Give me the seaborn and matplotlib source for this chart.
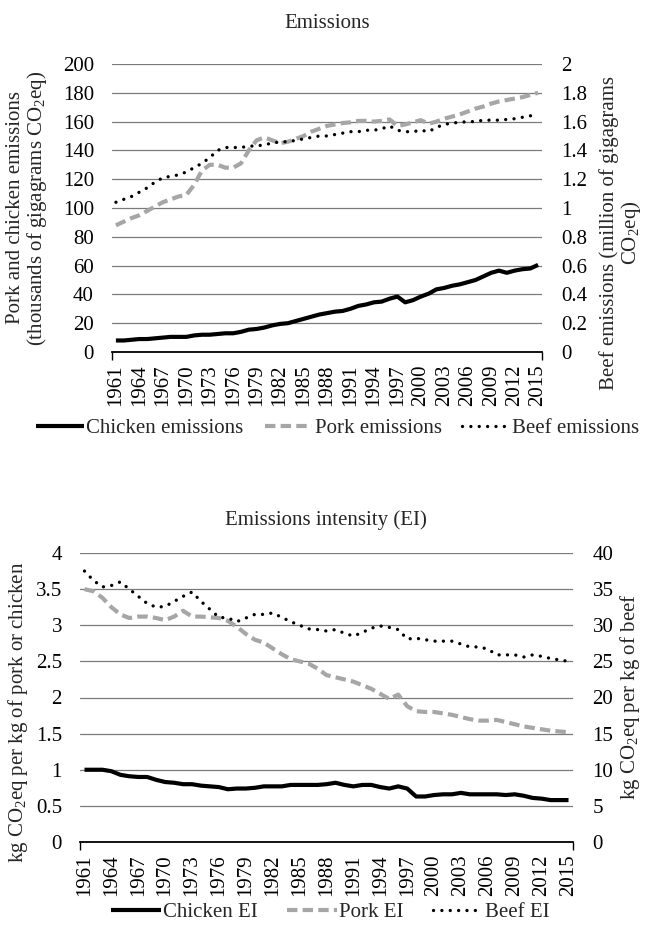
import numpy as np
import pandas as pd
import matplotlib
matplotlib.use('Agg')
import matplotlib.pyplot as plt
import seaborn as sns

years = list(range(1961, 2016))
chicken_em = [8, 8, 8.5, 9, 9, 9.5, 10, 10.5, 10.5, 10.5, 11.5, 12, 12, 12.5, 13, 13, 14, 15.5, 16, 17,
              18.5, 19.5, 20, 21.5, 23, 24.5, 26, 27, 28, 28.5, 30, 32, 33, 34.5, 35, 37, 38.5, 34.5, 36, 38.5,
              40.5, 43.5, 44.5, 46, 47, 48.5, 50, 52.5, 55, 56.5, 55, 56.5, 57.5, 58, 60.5]
pork_em = [88, 90.5, 93, 95, 98, 101, 104, 106, 108, 109, 116, 126, 130, 130, 128, 128, 131, 140, 147, 149,
           147, 145, 146, 148, 150, 153, 155, 157, 158, 159, 159.5, 160.5, 160.5, 160, 160.5, 161.5, 157, 158, 159.5, 161,
           158.5, 160, 162, 163.5, 165, 167, 169, 170.5, 172.5, 174, 175, 176, 177, 178.5, 180]
beef_em = [1.04, 1.06, 1.08, 1.11, 1.14, 1.18, 1.21, 1.22, 1.23, 1.25, 1.28, 1.31, 1.35, 1.40, 1.42, 1.42, 1.42, 1.43, 1.43, 1.44,
           1.45, 1.46, 1.46, 1.47, 1.48, 1.49, 1.50, 1.50, 1.51, 1.52, 1.53, 1.53, 1.54, 1.54, 1.55, 1.57, 1.54, 1.53, 1.53, 1.54,
           1.53, 1.56, 1.58, 1.59, 1.595, 1.60, 1.60, 1.61, 1.61, 1.61, 1.615, 1.62, 1.63, 1.64, 1.65]
chicken_ei = [1.0, 1.0, 1.0, 0.98, 0.93, 0.91, 0.9, 0.9, 0.86, 0.83, 0.82, 0.8, 0.8, 0.78, 0.77, 0.76, 0.73, 0.74, 0.74, 0.75,
              0.77, 0.77, 0.77, 0.79, 0.79, 0.79, 0.79, 0.8, 0.82, 0.79, 0.77, 0.79, 0.79, 0.76, 0.74, 0.77, 0.74, 0.63, 0.63, 0.65,
              0.66, 0.66, 0.68, 0.66, 0.66, 0.66, 0.66, 0.65, 0.66, 0.64, 0.61, 0.6, 0.58, 0.58, 0.58]
pork_ei = [3.5, 3.47, 3.38, 3.25, 3.15, 3.1, 3.12, 3.12, 3.1, 3.07, 3.12, 3.2, 3.12, 3.12, 3.11, 3.1, 3.06, 2.98, 2.88, 2.8,
           2.76, 2.68, 2.6, 2.53, 2.5, 2.47, 2.4, 2.31, 2.28, 2.25, 2.22, 2.17, 2.12, 2.05, 1.98, 2.04, 1.88, 1.81, 1.8, 1.8,
           1.78, 1.76, 1.73, 1.7, 1.68, 1.68, 1.69, 1.66, 1.63, 1.6, 1.58, 1.56, 1.54, 1.53, 1.52]
beef_ei = [37.5, 36.2, 35.3, 35.5, 36, 35, 34, 33, 32.5, 32.6, 33.3, 34, 34.6, 33.3, 32.2, 31.1, 31, 30.5, 31, 31.5,
           31.5, 31.7, 31.1, 30.5, 30, 29.5, 29.4, 29.2, 29.4, 28.9, 28.5, 29, 29.6, 29.9, 29.7, 29.4, 28.1, 28.2, 28, 27.8,
           27.8, 27.8, 27.4, 27, 27, 26.7, 25.9, 25.9, 25.9, 25.6, 25.9, 25.7, 25.4, 25.2, 25]
xtick_years = years[::3]

top_left_ticks = list(range(0, 201, 20))
top_right_ticks = [i / 10 for i in range(0, 21, 2)]
bot_left_ticks = [i / 2 for i in range(0, 9)]
bot_right_ticks = list(range(0, 41, 5))

sns.set_theme(style='white')
plt.rcParams['font.family'] = ['Liberation Serif', 'DejaVu Serif']
plt.rcParams['mathtext.fontset'] = 'custom'
plt.rcParams['mathtext.rm'] = 'Liberation Serif'
plt.rcParams['mathtext.it'] = 'Liberation Serif:italic'

W, H = 647, 940
FS = 15
fig = plt.figure(figsize=(W / 100, H / 100), dpi=100)


def px_ax(l, t, r, b):
    return fig.add_axes([l / W, 1 - b / H, (r - l) / W, (b - t) / H])


CH = dict(color='black', lw=3.0, solid_capstyle='butt')
PK = dict(color='#a6a6a6', lw=3.0, linestyle=(0, (2.5, 1.25)))
BF = dict(color='black', lw=2.4, linestyle=(0, (0.01, 2.5)), dash_capstyle='round')


def fmt(v):
    return f'{v:g}'


def style_axes(ax, ax2, lt, rt, lpad, rpad):
    ax.set_xlim(1960.5, 2015.5)
    ax.set_ylim(lt[0], lt[-1])
    ax2.set_ylim(rt[0], rt[-1])
    ax.set_yticks(lt)
    ax.set_yticklabels([fmt(v) for v in lt])
    ax2.set_yticks(rt)
    ax2.set_yticklabels([fmt(v) for v in rt])
    ax.set_xticks(xtick_years)
    ax.set_xticklabels([str(y) for y in xtick_years], rotation=90)
    ax.set_xticks([1960.5, 2015.5], minor=True)
    ax.tick_params(axis='x', which='major', length=0, pad=9, labelsize=FS, colors='black')
    ax.tick_params(axis='x', which='minor', length=6, width=1.0, color='black', direction='out', bottom=True)
    ax.tick_params(axis='y', length=0, pad=lpad, labelsize=FS, colors='black')
    ax2.tick_params(axis='y', length=0, pad=rpad, labelsize=FS, colors='black')
    ax.grid(axis='y', color='#7a7a7a', lw=0.9)
    ax.grid(axis='x', visible=False)
    ax.set_axisbelow(True)
    for s in ['top', 'left', 'right']:
        ax.spines[s].set_visible(False)
        ax2.spines[s].set_visible(False)
    ax2.spines['bottom'].set_visible(False)
    ax.spines['bottom'].set_color('black')
    ax.spines['bottom'].set_linewidth(1.3)
    ax.set_xlabel('')
    ax.set_ylabel('')
    ax2.set_xlabel('')
    ax2.set_ylabel('')
    ax2.grid(False)


LEG = dict(loc='center', ncol=3, frameon=False, fontsize=FS, handlelength=2.4,
           handletextpad=0.1, columnspacing=1.4, borderaxespad=0, borderpad=0)

# ---------------- top chart ----------------
df1 = pd.DataFrame({'year': years, 'chicken': chicken_em, 'pork': pork_em, 'beef': beef_em})
ax = px_ax(112, 64, 542, 352)
ax2 = ax.twinx()
sns.lineplot(data=df1, x='year', y='chicken', ax=ax, label='Chicken emissions', legend=False, **CH)
sns.lineplot(data=df1, x='year', y='pork', ax=ax, label='Pork emissions', legend=False, **PK)
sns.lineplot(data=df1, x='year', y='beef', ax=ax2, label='Beef emissions', legend=False, **BF)
style_axes(ax, ax2, top_left_ticks, top_right_ticks, 13, 14)
h = ax.get_lines() + ax2.get_lines()
leg_top = dict(LEG, handlelength=2.3, columnspacing=1.0)
fig.legend(h, [l.get_label() for l in h], bbox_to_anchor=(338 / W, 1 - 428 / H), **leg_top)
fig.text(327 / W, 1 - 24 / H, 'Emissions', ha='center', va='center', fontsize=FS)
fig.text(28 / W, 1 - 208 / H, 'Pork and chicken emissions\n(thousands of gigagrams CO$_\\mathrm{2}$eq)',
         rotation=90, ha='center', va='center', multialignment='center', fontsize=FS, linespacing=1.0)
fig.text(621 / W, 1 - 233 / H, 'Beef emissions (million of gigagrams\nCO$_\\mathrm{2}$eq)',
         rotation=90, ha='center', va='center', multialignment='center', fontsize=FS, linespacing=1.0)

# ---------------- bottom chart ----------------
df2 = pd.DataFrame({'year': years, 'chicken': chicken_ei, 'pork': pork_ei, 'beef': beef_ei})
bx = px_ax(80, 553, 573, 842)
bx2 = bx.twinx()
sns.lineplot(data=df2, x='year', y='chicken', ax=bx, label='Chicken EI', legend=False, **CH)
sns.lineplot(data=df2, x='year', y='pork', ax=bx, label='Pork EI', legend=False, **PK)
sns.lineplot(data=df2, x='year', y='beef', ax=bx2, label='Beef EI', legend=False, **BF)
style_axes(bx, bx2, bot_left_ticks, bot_right_ticks, 13, 14)
h = bx.get_lines() + bx2.get_lines()
fig.legend(h, [l.get_label() for l in h], bbox_to_anchor=(330 / W, 1 - 912 / H), **LEG)
fig.text(326 / W, 1 - 520 / H, 'Emissions intensity (EI)', ha='center', va='center', fontsize=FS)
fig.text(18 / W, 1 - 712 / H, 'kg CO$_\\mathrm{2}$eq per kg of pork or chicken',
         rotation=90, ha='center', va='center', fontsize=FS)
fig.text(630 / W, 1 - 697 / H, 'kg CO$_\\mathrm{2}$eq per kg of beef',
         rotation=90, ha='center', va='center', fontsize=FS)

fig.savefig('out.png', dpi=100)
